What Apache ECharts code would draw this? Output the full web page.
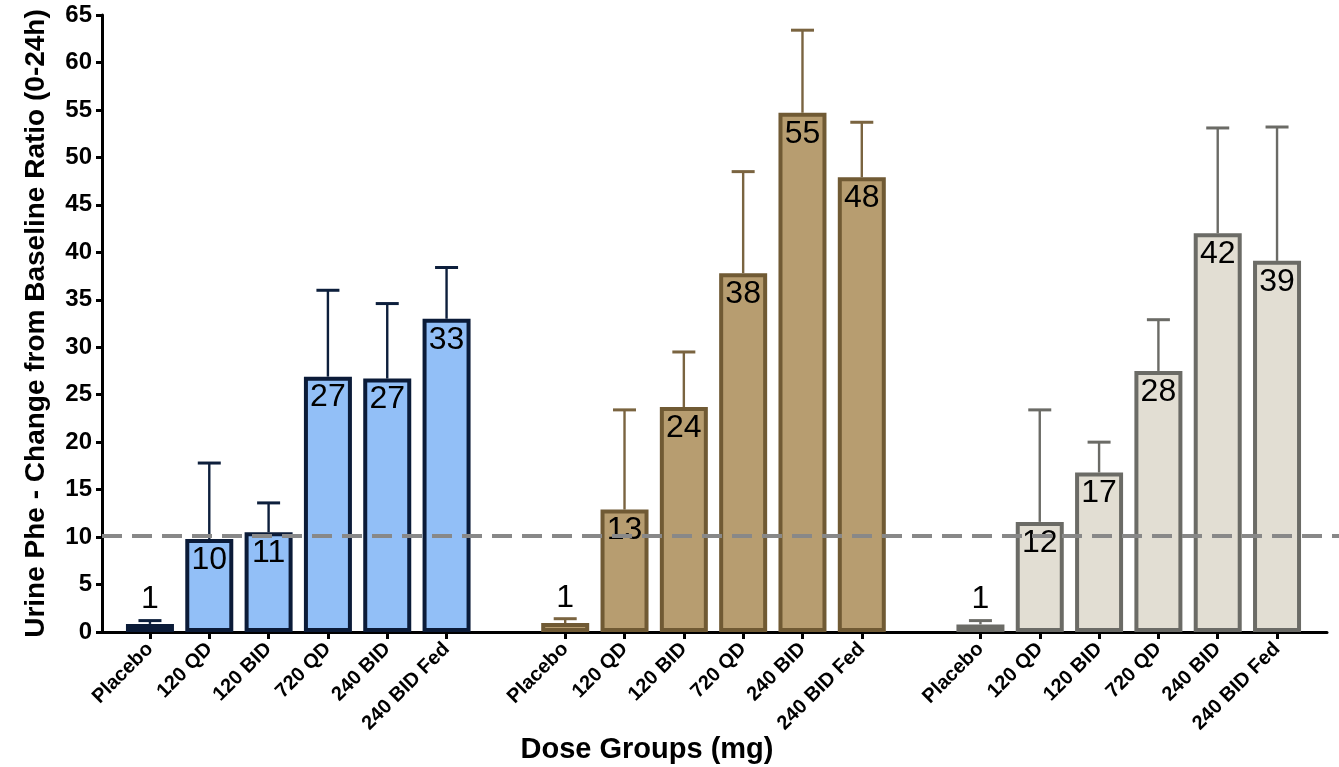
<!DOCTYPE html>
<html>
<head>
<meta charset="utf-8">
<title>Urine Phe - Change from Baseline Ratio</title>
<script src="https://cdn.jsdelivr.net/npm/echarts@6/dist/echarts.min.js"></script>
<style>
  html, body { margin: 0; padding: 0; background: #fff; }
  #chart { width: 1339px; height: 767px; }
</style>
</head>
<body>
<div id="chart"></div>
<script>
var doseGroups = ['Placebo', '120 QD', '120 BID', '720 QD', '240 BID', '240 BID Fed'];

// three cohorts, mean ratio and top of the error bar
var blueMeans = [0.85, 9.8, 10.5, 26.9, 26.7, 33.0];
var blueUpper = [1.2, 17.8, 13.6, 36.0, 34.6, 38.4];
var tanMeans = [0.95, 12.9, 23.7, 37.8, 54.7, 47.9];
var tanUpper = [1.4, 23.4, 29.5, 48.5, 63.4, 53.7];
var greyMeans = [0.8, 11.6, 16.8, 27.5, 42.0, 39.1];
var greyUpper = [1.2, 23.4, 20.0, 32.9, 53.1, 53.2];

var yMin = 0, yMax = 65, yStep = 5;
var referenceLevel = 10.1;

var cohorts = [
	{ means: blueMeans, upper: blueUpper, fill: '#92bff7', border: '#0b1b38', err: '#0d1f3c' },
	{ means: tanMeans, upper: tanUpper, fill: '#b79d70', border: '#705a34', err: '#7a6440' },
	{ means: greyMeans, upper: greyUpper, fill: '#e2ded3', border: '#6b6b66', err: '#6b6b66' }
];

var FONT = '"Liberation Sans", Arial, Helvetica, sans-serif';

// categories with one blank slot between cohorts
var xData = [];
var barData = [];
var errData = [];
cohorts.forEach(function(c, g) {
	for (var i = 0; i < doseGroups.length; i++) {
		var idx = xData.length;
		xData.push(doseGroups[i]);
		var small = c.means[i] < 2;
		barData.push({
			value: c.means[i],
			itemStyle: { color: c.fill, borderColor: c.border, borderWidth: 4 },
			label: small ? { position: 'top', distance: 9 } : { position: 'insideTop', distance: 5 }
		});
		errData.push([idx, c.means[i], c.upper[i], g]);
	}
	if (g < cohorts.length - 1) {
		xData.push('');
		barData.push('-');
	}
});

var myChart = echarts.init(document.getElementById('chart'));
var option = {
	animation: false,
	textStyle: { fontFamily: FONT },
	grid: [
		// axis frame
		{ left: 102, right: 12, top: 15, bottom: 135 },
		// bars
		{ left: 120.3, right: 32.3, top: 15, bottom: 135 },
		// dashed reference line, runs to the edge
		{ left: 102, right: 0, top: 15, bottom: 135 }
	],
	xAxis: [
		{
			gridIndex: 0, type: 'value', min: 0, max: 1,
			axisLine: { show: true, lineStyle: { color: '#000', width: 3 } },
			axisTick: { show: false }, axisLabel: { show: false }, splitLine: { show: false }
		},
		{
			gridIndex: 1, type: 'category', data: xData,
			axisLine: { show: false },
			axisTick: {
				show: true, alignWithLabel: true, length: 7,
				lineStyle: { color: '#000', width: 3 },
				interval: function(index, value) { return value !== ''; }
			},
			axisLabel: {
				interval: 0, rotate: 45, margin: 14,
				color: '#000', fontSize: 20, fontWeight: 'bold', fontFamily: FONT
			}
		},
		{ gridIndex: 2, type: 'value', min: 0, max: 1, show: false }
	],
	yAxis: [
		{
			gridIndex: 0, type: 'value', min: yMin, max: yMax, interval: yStep,
			name: 'Urine Phe - Change from Baseline Ratio (0-24h)',
			nameLocation: 'middle', nameGap: 52,
			nameTextStyle: { color: '#000', fontSize: 28, fontWeight: 'bold', fontFamily: FONT },
			axisLine: { show: true, lineStyle: { color: '#000', width: 3 } },
			axisTick: { show: true, length: 6, lineStyle: { color: '#000', width: 3 } },
			axisLabel: { margin: 10, color: '#000', fontSize: 24, fontWeight: 'bold', fontFamily: FONT },
			splitLine: { show: false }
		},
		{ gridIndex: 1, type: 'value', min: yMin, max: yMax, show: false },
		{ gridIndex: 2, type: 'value', min: yMin, max: yMax, show: false }
	],
	graphic: [
		{
			type: 'text', x: 647, y: 750,
			style: {
				text: 'Dose Groups (mg)', fill: '#000', textAlign: 'center', textVerticalAlign: 'middle',
				font: 'bold 29px ' + FONT
			}
		}
	],
	series: [
		{
			type: 'bar', xAxisIndex: 1, yAxisIndex: 1,
			barWidth: 48,
			data: barData,
			label: {
				show: true, color: '#000', fontSize: 32, fontFamily: FONT,
				formatter: function(p) { return Math.round(p.value); }
			},
			z: 2
		},
		{
			type: 'custom', xAxisIndex: 1, yAxisIndex: 1,
			data: errData,
			encode: { x: 0, y: [1, 2] },
			renderItem: function(params, api) {
				var lo = api.coord([api.value(0), api.value(1)]);
				var hi = api.coord([api.value(0), api.value(2)]);
				var col = cohorts[api.value(3)].err;
				var half = 11.5;
				return {
					type: 'group',
					children: [
						{ type: 'line', shape: { x1: lo[0], y1: lo[1], x2: hi[0], y2: hi[1] }, style: { stroke: col, lineWidth: 2.4 } },
						{ type: 'line', shape: { x1: hi[0] - half, y1: hi[1], x2: hi[0] + half, y2: hi[1] }, style: { stroke: col, lineWidth: 3 } }
					]
				};
			},
			z: 1
		},
		{
			type: 'line', xAxisIndex: 2, yAxisIndex: 2, data: [],
			markLine: {
				silent: true, symbol: 'none', label: { show: false },
				lineStyle: { color: '#888888', width: 4, type: [20, 10] },
				data: [{ yAxis: referenceLevel }]
			},
			z: 3
		}
	]
};
myChart.setOption(option);
</script>
</body>
</html>
